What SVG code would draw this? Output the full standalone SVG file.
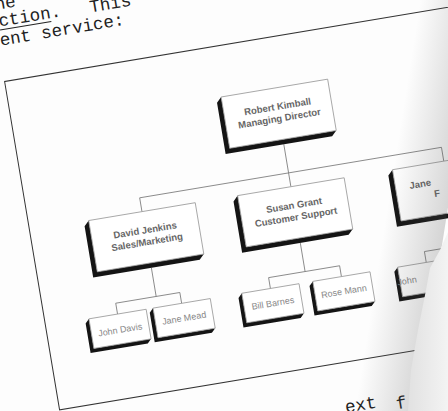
<svg xmlns="http://www.w3.org/2000/svg" width="448" height="411" viewBox="0 0 448 411">
<defs>
<style>
.frame{fill:none;stroke:#333;stroke-width:1}
.ext{fill:#141414}
.face{fill:#fff;stroke:#999;stroke-width:0.8}
.conn{fill:none;stroke:#777;stroke-width:0.8}
.nt{font-family:"Liberation Sans",Arial,sans-serif;font-size:9.5px;font-weight:bold;fill:#666;text-anchor:middle}
.lt{font-family:"Liberation Sans",Arial,sans-serif;font-size:9px;fill:#888;text-anchor:middle}
.pt{font-family:"Liberation Mono","Courier New",monospace;font-size:17.5px;fill:#222}
</style>
<linearGradient id="shade" x1="0" y1="0" x2="1" y2="0">
<stop offset="0" stop-color="#555" stop-opacity="0"/>
<stop offset="1" stop-color="#555" stop-opacity="0.24"/>
</linearGradient>
<linearGradient id="beyond" gradientUnits="userSpaceOnUse" x1="405" y1="0" x2="448" y2="0">
<stop offset="0" stop-color="#e0e0e0"/>
<stop offset="1" stop-color="#f3f3f3"/>
</linearGradient>
</defs>
<rect x="0" y="0" width="448" height="411" fill="#fdfdfd"/>
<g transform="rotate(-9.5 224 205)">
<g id="page-text">
<text class="pt" x="52" y="-25" text-anchor="end">ne</text>
<text class="pt" x="32" y="-8">ction.</text>
<line x1="32" y1="-4.5" x2="84" y2="-4.5" stroke="#222" stroke-width="1"/>
<text class="pt" x="124" y="-7">This</text>
<text class="pt" x="30" y="11">ent service:</text>
<text class="pt" x="310" y="430">ext</text>
<text class="pt" x="361" y="435">f</text>
</g>
<rect class="frame" x="28" y="47" width="540" height="333"/>
<g id="connectors">
<path class="conn" d="M293 155V184M142 184H448M142 184V198M293 184V198M448 184V198"/>
<path class="conn" d="M142 255V284M101 284H166M101 284V295M166 284V295"/>
<path class="conn" d="M293 255V284M256 284H328M256 284V295M328 284V295"/>
<path class="conn" d="M448 255V284M414 284H484M414 284V295M484 284V295"/>
</g>
<g id="robert">
<polygon class="ext" points="239,98 234,103 234,155 342,155 347,150 239,150"/>
<rect class="face" x="239" y="98" width="108" height="52"/>
<text class="nt" x="293" y="120">Robert Kimball</text>
<text class="nt" x="293" y="132">Managing Director</text>
</g>
<g id="david">
<polygon class="ext" points="88,198 83,203 83,255 191,255 196,250 88,250"/>
<rect class="face" x="88" y="198" width="108" height="52"/>
<text class="nt" x="142" y="220">David Jenkins</text>
<text class="nt" x="142" y="232">Sales/Marketing</text>
</g>
<g id="susan">
<polygon class="ext" points="239,198 234,203 234,255 342,255 347,250 239,250"/>
<rect class="face" x="239" y="198" width="108" height="52"/>
<text class="nt" x="293" y="220">Susan Grant</text>
<text class="nt" x="293" y="232">Customer Support</text>
</g>
<g id="jane">
<polygon class="ext" points="396,198 391,203 391,255 499,255 504,250 396,250"/>
<rect class="face" x="396" y="198" width="108" height="52"/>
<text class="nt" x="421" y="220" text-anchor="start">Jane</text>
<text class="nt" x="436" y="232" text-anchor="start">F</text>
</g>
<g id="john-davis">
<polygon class="ext" points="72,295 68,299 68,329 126,329 130,325 72,325"/>
<rect class="face" x="72" y="295" width="58" height="30"/>
<text class="lt" x="101" y="314">John Davis</text>
</g>
<g id="jane-mead">
<polygon class="ext" points="137,295 133,299 133,329 191,329 195,325 137,325"/>
<rect class="face" x="137" y="295" width="58" height="30"/>
<text class="lt" x="166" y="313">Jane Mead</text>
</g>
<g id="bill-barnes">
<polygon class="ext" points="227,295 223,299 223,329 281,329 285,325 227,325"/>
<rect class="face" x="227" y="295" width="58" height="30"/>
<text class="lt" x="256" y="313">Bill Barnes</text>
</g>
<g id="rose-mann">
<polygon class="ext" points="299,295 295,299 295,329 353,329 357,325 299,325"/>
<rect class="face" x="299" y="295" width="58" height="30"/>
<text class="lt" x="328" y="313">Rose Mann</text>
</g>
<g id="john">
<polygon class="ext" points="385,295 381,299 381,329 439,329 443,325 385,325"/>
<rect class="face" x="385" y="295" width="58" height="30"/>
<text class="lt" x="392" y="313" text-anchor="start">John</text>
</g>
</g>
<g transform="rotate(9 420 205)">
<rect x="388" y="-80" width="60" height="580" fill="url(#shade)"/>
</g>
<polygon points="448,232 440,250 430,268 426,290 418,330 411,370 408,411 448,411" fill="url(#beyond)"/>
</svg>
